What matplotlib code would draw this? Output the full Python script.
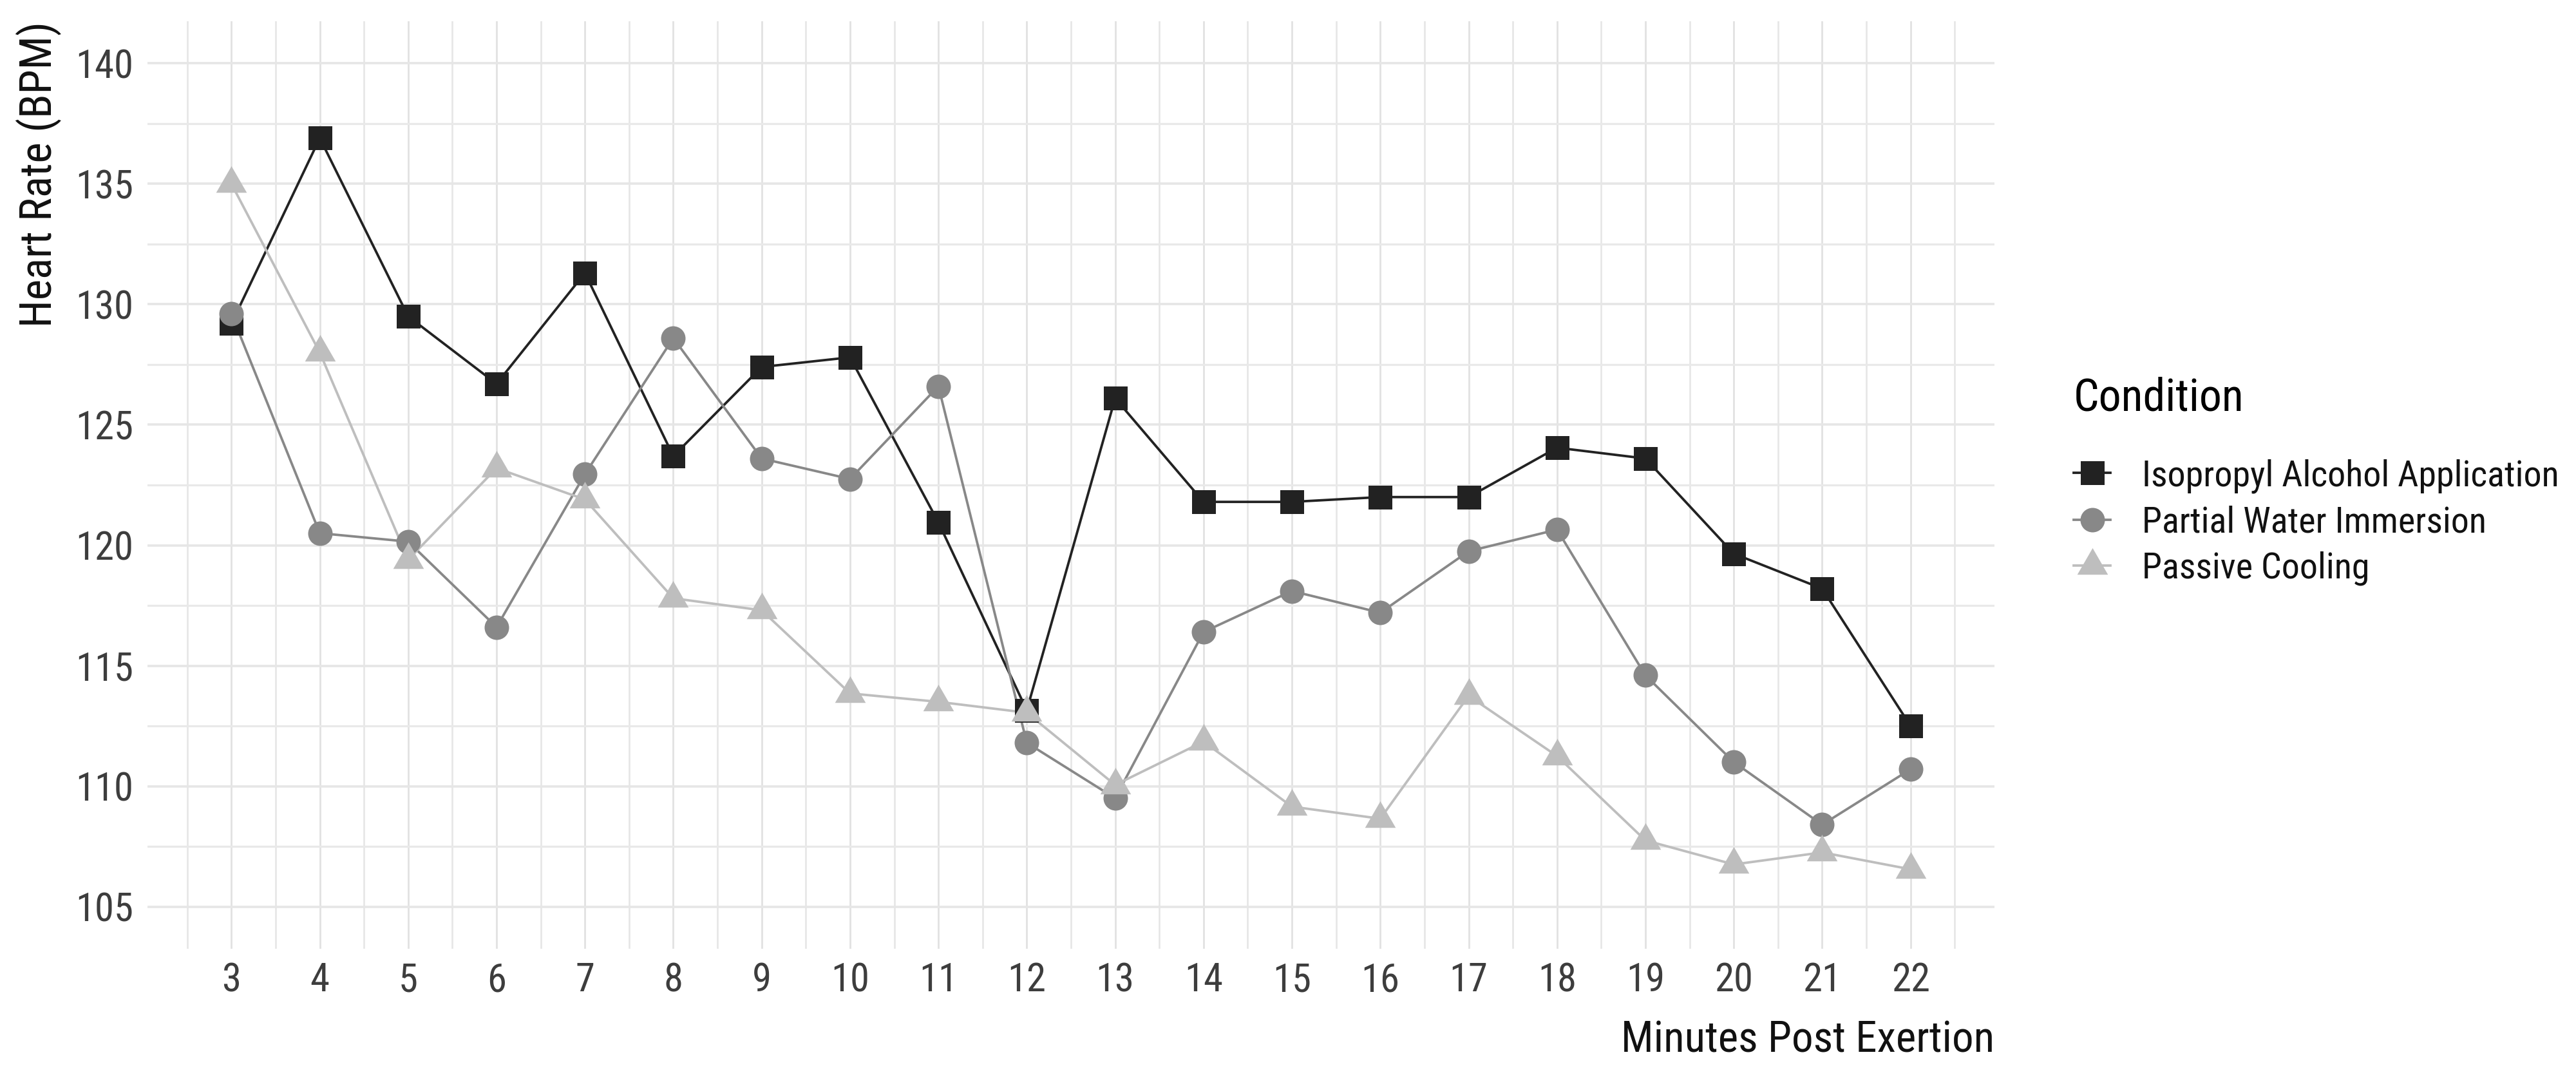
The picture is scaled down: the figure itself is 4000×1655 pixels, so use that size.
import numpy as np
import matplotlib
matplotlib.use("Agg")
import matplotlib.pyplot as plt
from matplotlib.ticker import MultipleLocator
from matplotlib import font_manager

# pick a condensed sans face if one is installed, otherwise Liberation Sans
chosen = None
prefs = ["Roboto Condensed", "Liberation Sans Narrow", "Noto Sans Condensed",
         "Open Sans Condensed", "Arial Narrow"]
entries = font_manager.fontManager.ttflist
for p in prefs:
    for f in entries:
        if f.name == p and f.style == 'normal' and f.weight in (400, 'normal', 'regular'):
            chosen = f.fname
            break
    if chosen:
        break
if chosen is not None:
    fam = font_manager.FontProperties(fname=chosen).get_name()
    plt.rcParams['font.family'] = [fam, 'Liberation Sans', 'DejaVu Sans']
else:
    plt.rcParams['font.family'] = ['Liberation Sans', 'DejaVu Sans']

minutes = list(range(3, 23))
conditions = ["Isopropyl Alcohol Application", "Partial Water Immersion", "Passive Cooling"]
isopropyl = [129.2, 136.9, 129.5, 126.7, 131.3, 123.7, 127.4, 127.8, 120.95, 113.15,
             126.1, 121.8, 121.8, 122.0, 122.0, 124.05, 123.6, 119.65, 118.2, 112.5]
partial = [129.6, 120.5, 120.15, 116.6, 122.95, 128.6, 123.6, 122.75, 126.6, 111.8,
           109.5, 116.4, 118.1, 117.2, 119.75, 120.65, 114.6, 111.0, 108.4, 110.7]
passive = [135.0, 128.0, 119.4, 123.2, 121.9, 117.8, 117.3, 113.85, 113.5, 113.05,
           110.05, 111.85, 109.15, 108.65, 113.75, 111.25, 107.75, 106.75, 107.25, 106.55]
y_ticks = [105, 110, 115, 120, 125, 130, 135, 140]

DPI = 200
def px(v):
    return v * 72.0 / DPI

fig = plt.figure(figsize=(4000 / DPI, 1655 / DPI), dpi=DPI)
renderer = fig.canvas.get_renderer()

def fit(txt, max_size, target_w):
    t = fig.text(0, 0, txt, fontsize=max_size)
    w = t.get_window_extent(renderer).width
    t.remove()
    return min(max_size, max_size * target_w / w)

tick_fs = fit("135", 25, 90)
xlab_fs = fit("Minutes Post Exertion", 26.5, 580)
ylab_fs = fit("Heart Rate (BPM)", 26.5, 474)
ltitle_fs = fit("Condition", 27.5, 265)
ltext_fs = fit("Isopropyl Alcohol Application", 21.6, 647)

tri = [(0, 1), (-0.866, -0.5), (0.866, -0.5), (0, 1)]
styles = [
    dict(color="#222222", marker="s", ms=px(37)),
    dict(color="#888888", marker="o", ms=px(38)),
    dict(color="#bebebe", marker=tri, ms=px(55)),
]
series = [isopropyl, partial, passive]

AX_L, AX_R, AX_T, AX_B = 229, 3097, 33, 1473
ax = fig.add_axes([AX_L / 4000, 1 - AX_B / 1655, (AX_R - AX_L) / 4000, (AX_B - AX_T) / 1655])

for s, st in zip(series, styles):
    ax.plot(minutes, s, color=st["color"], lw=px(3.8), zorder=2, solid_capstyle='butt')
handles = []
for i, (s, st, name) in enumerate(zip(series, styles, conditions)):
    ax.plot(minutes, s, linestyle='none', marker=st["marker"], ms=st["ms"],
            markerfacecolor=st["color"], markeredgewidth=0, zorder=3 + i)
    h, = ax.plot([], [], color=st["color"], lw=px(3.8), marker=st["marker"], ms=st["ms"],
                 markerfacecolor=st["color"], markeredgewidth=0, label=name)
    handles.append(h)

ax.set_xlim(2.05, 22.95)
ax.set_ylim(103.25, 141.75)
ax.set_xticks(minutes)
ax.set_xticklabels([str(m) for m in minutes])
ax.set_yticks(y_ticks)
ax.xaxis.set_minor_locator(MultipleLocator(0.5))
ax.yaxis.set_minor_locator(MultipleLocator(2.5))

ax.grid(True, axis='y', which='major', color="#e6e6e6", lw=px(3.6), zorder=0)
ax.grid(True, axis='y', which='minor', color="#e9e9e9", lw=px(3.2), zorder=0)
ax.grid(True, axis='x', which='major', color="#e2e2e2", lw=px(2.8), zorder=0)
ax.grid(True, axis='x', which='minor', color="#e6e6e6", lw=px(2.6), zorder=0)
ax.set_axisbelow(True)
for sp in ax.spines.values():
    sp.set_visible(False)
ax.tick_params(which='both', length=0)
ax.tick_params(axis='both', which='major', labelsize=tick_fs, labelcolor="#3d3d3d")
ax.tick_params(axis='x', pad=px(20))
ax.tick_params(axis='y', pad=px(22))

xl = ax.set_xlabel("Minutes Post Exertion", fontsize=xlab_fs, loc='right', color="#111111")
ax.xaxis.set_label_coords(1.0, -(1633 - AX_B) / (AX_B - AX_T))
xl.set_verticalalignment('baseline')
xl.set_horizontalalignment('right')
ax.set_ylabel("Heart Rate (BPM)", fontsize=ylab_fs, loc='top', labelpad=8, color="#111111")

em = ltext_fs * DPI / 72.0
leg = fig.legend(handles=handles, loc='upper left', bbox_to_anchor=(3220 / 4000, 1 - 585 / 1655),
                 frameon=False, fontsize=ltext_fs, title="Condition", title_fontsize=ltitle_fs,
                 handlelength=57 / em, handletextpad=49 / em,
                 labelspacing=0.26 * 21.6 / ltext_fs + 3 / em,
                 alignment='left', borderaxespad=0, borderpad=0)
leg._legend_box.sep = px(60)
for t in leg.get_texts():
    t.set_color("#111111")

fig.savefig("out.png", dpi=DPI, facecolor="white")
